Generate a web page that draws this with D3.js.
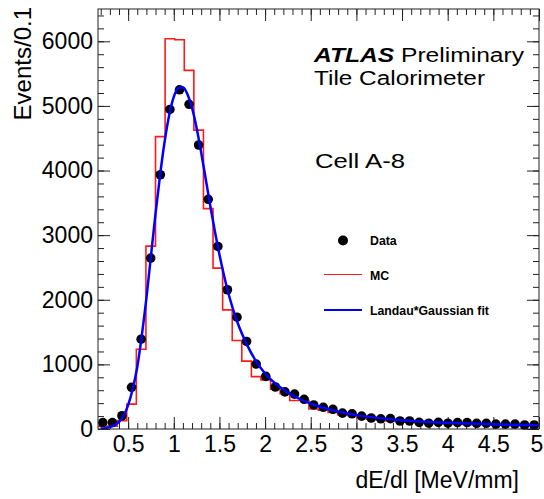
<!DOCTYPE html>
<html>
<head>
<meta charset="utf-8">
<script src="https://cdn.jsdelivr.net/npm/d3@7"></script>
<style>
  body { margin: 0; background: white; }
  text { font-family: "Liberation Sans", Arial, sans-serif; }
</style>
</head>
<body>
<script>
// bin centres (46 bins, 0.17 .. 5.0, width 0.105)
const binCenters = [0.2225, 0.3275, 0.4325, 0.5375, 0.6425, 0.7475, 0.8525, 0.9575, 1.0625, 1.1675,
  1.2725, 1.3775, 1.4825, 1.5875, 1.6925, 1.7975, 1.9025, 2.0075, 2.1125, 2.2175,
  2.3225, 2.4275, 2.5325, 2.6375, 2.7425, 2.8475, 2.9525, 3.0575, 3.1625, 3.2675,
  3.3725, 3.4775, 3.5825, 3.6875, 3.7925, 3.8975, 4.0025, 4.1075, 4.2125, 4.3175,
  4.4225, 4.5275, 4.6325, 4.7375, 4.8425, 4.9475];
const binWidth = 0.105;

const dataCounts = [100, 100, 205, 645, 1390, 2645, 3935, 4945, 5250, 5025,
  4395, 3555, 2825, 2155, 1730, 1355, 1005, 815, 650, 575,
  540, 460, 372, 336, 305, 245, 235, 200, 170, 158,
  160, 124, 124, 103, 90, 103, 90, 100, 100, 88,
  88, 75, 75, 75, 62, 62];

const mcCounts = [40, 45, 130, 385, 1235, 2830, 4525, 6040, 6025, 5550,
  4625, 3410, 2490, 1843, 1370, 1050, 810, 760, 615, 545,
  440, 440, 310, 290, 255, 220, 210, 175, 150, 140,
  125, 115, 105, 100, 95, 85, 100, 80, 70, 68,
  65, 62, 60, 55, 55, 50];

// Landau*Gaussian fit
const fitX = [0.2, 0.3, 0.4, 0.5, 0.55, 0.6, 0.65, 0.7, 0.75, 0.8, 0.85, 0.9, 0.95, 1.0, 1.05, 1.1,
  1.15, 1.2, 1.25, 1.3, 1.35, 1.4, 1.45, 1.5, 1.6, 1.7, 1.8, 1.9, 2.0, 2.2, 2.4, 2.6, 2.8, 3.0,
  3.5, 4.0, 4.5, 5.0];
const fitY = [5, 30, 110, 370, 620, 960, 1450, 2020, 2680, 3330, 3930, 4450, 4860, 5140, 5275, 5290,
  5180, 4970, 4660, 4280, 3870, 3450, 3060, 2700, 2090, 1640, 1310, 1050, 860, 610, 450, 345, 270, 215,
  135, 95, 72, 58];

const xMajor = [0.5, 1, 1.5, 2, 2.5, 3, 3.5, 4, 4.5, 5];
const yMajor = [0, 1000, 2000, 3000, 4000, 5000, 6000];

const W = 544, H = 499;
const frame = { left: 98, right: 539, top: 9, bottom: 429 };

const svg = d3.select('body').append('svg')
  .attr('width', W).attr('height', H);

const x = d3.scaleLinear().domain([0.17, 5]).range([frame.left, frame.right]);
const y = d3.scaleLinear().domain([0, 6500]).range([frame.bottom, frame.top]);

const xMinor = d3.range(0.2, 5.001, 0.1).map(v => +v.toFixed(2));
const yMinor = d3.range(0, 6501, 200);

// axes, ticks pointing inward
function styleAxis(g) {
  g.select('.domain').remove();
  g.selectAll('line').attr('stroke', '#222');
  g.selectAll('text').attr('font-size', 23).attr('fill', '#000')
    .style('font-family', '"Liberation Sans", Arial, sans-serif');
}

svg.append('g').attr('transform', `translate(0,${frame.bottom})`)
  .call(d3.axisBottom(x).tickValues(xMinor).tickSize(-6).tickFormat(''))
  .call(styleAxis);
svg.append('g').attr('transform', `translate(0,${frame.bottom})`)
  .call(d3.axisBottom(x).tickValues(xMajor).tickSize(-12).tickPadding(7).tickFormat(d3.format('')))
  .call(styleAxis)
  .call(g => g.selectAll('text').filter(d => d === 5).attr('dx', -2.5));
svg.append('g').attr('transform', `translate(0,${frame.top})`)
  .call(d3.axisTop(x).tickValues(xMinor).tickSize(-6).tickFormat(''))
  .call(styleAxis);
svg.append('g').attr('transform', `translate(0,${frame.top})`)
  .call(d3.axisTop(x).tickValues(xMajor).tickSize(-12).tickFormat(''))
  .call(styleAxis);

svg.append('g').attr('transform', `translate(${frame.left},0)`)
  .call(d3.axisLeft(y).tickValues(yMinor).tickSize(-6).tickFormat(''))
  .call(styleAxis);
svg.append('g').attr('transform', `translate(${frame.left},0)`)
  .call(d3.axisLeft(y).tickValues(yMajor).tickSize(-12).tickPadding(5).tickFormat(d3.format('d')))
  .call(styleAxis);
svg.append('g').attr('transform', `translate(${frame.right},0)`)
  .call(d3.axisRight(y).tickValues(yMinor).tickSize(-6).tickFormat(''))
  .call(styleAxis);
svg.append('g').attr('transform', `translate(${frame.right},0)`)
  .call(d3.axisRight(y).tickValues(yMajor).tickSize(-12).tickFormat(''))
  .call(styleAxis);

// MC histogram outline
const edges = binCenters.map(c => c - binWidth / 2).concat([binCenters[binCenters.length - 1] + binWidth / 2]);
const mcSteps = edges.map((e, i) => [e, mcCounts[Math.min(i, mcCounts.length - 1)]]);
svg.append('path')
  .datum(mcSteps)
  .attr('fill', 'none')
  .attr('stroke', '#ff1a1a')
  .attr('stroke-width', 1.6)
  .attr('d', d3.line().x(d => x(d[0])).y(d => y(d[1])).curve(d3.curveStepAfter));

// data points
svg.append('g').selectAll('circle')
  .data(binCenters.map((c, i) => [c, dataCounts[i]]))
  .join('circle')
  .attr('cx', d => x(d[0]))
  .attr('cy', d => y(d[1]))
  .attr('r', 4.8)
  .attr('fill', '#000');

// fit curve
svg.append('path')
  .datum(fitX.map((v, i) => [v, fitY[i]]))
  .attr('fill', 'none')
  .attr('stroke', '#0000ff')
  .attr('stroke-width', 2.5)
  .attr('d', d3.line().x(d => x(d[0])).y(d => y(d[1])).curve(d3.curveMonotoneX));

// frame
svg.append('rect')
  .attr('x', frame.left).attr('y', frame.top)
  .attr('width', frame.right - frame.left).attr('height', frame.bottom - frame.top)
  .attr('fill', 'none').attr('stroke', '#222').attr('stroke-width', 1);

// axis titles
svg.append('text')
  .attr('transform', `translate(31,7) rotate(-90)`)
  .attr('text-anchor', 'end')
  .attr('font-size', 24)
  .text('Events/0.1');

svg.append('text')
  .attr('x', 519).attr('y', 488)
  .attr('text-anchor', 'end')
  .attr('font-size', 23)
  .text('dE/dl [MeV/mm]');

// labels (slightly wide lettering, as in the original)
const atlas = svg.append('text').attr('x', 314).attr('y', 62).attr('font-size', 20)
  .attr('textLength', 210).attr('lengthAdjust', 'spacingAndGlyphs');
atlas.append('tspan').attr('font-weight', 'bold').attr('font-style', 'italic').text('ATLAS');
atlas.append('tspan').text(' Preliminary');

svg.append('text').attr('x', 314).attr('y', 85).attr('font-size', 20)
  .attr('textLength', 171).attr('lengthAdjust', 'spacingAndGlyphs')
  .text('Tile Calorimeter');
svg.append('text').attr('x', 315).attr('y', 168).attr('font-size', 21)
  .attr('textLength', 90).attr('lengthAdjust', 'spacingAndGlyphs')
  .text('Cell A-8');

// legend
const legend = svg.append('g').attr('font-size', 12.3).attr('font-weight', 'bold');
legend.append('circle').attr('cx', 343).attr('cy', 240.5).attr('r', 5).attr('fill', '#000');
legend.append('text').attr('x', 370).attr('y', 245).text('Data');
legend.append('line').attr('x1', 324).attr('x2', 362).attr('y1', 274.5).attr('y2', 274.5)
  .attr('stroke', '#ff1a1a').attr('stroke-width', 1.2);
legend.append('text').attr('x', 370).attr('y', 280).text('MC');
legend.append('line').attr('x1', 324).attr('x2', 362).attr('y1', 310).attr('y2', 310)
  .attr('stroke', '#0000ff').attr('stroke-width', 2.2);
legend.append('text').attr('x', 370).attr('y', 315).text('Landau*Gaussian fit');
</script>
</body>
</html>
